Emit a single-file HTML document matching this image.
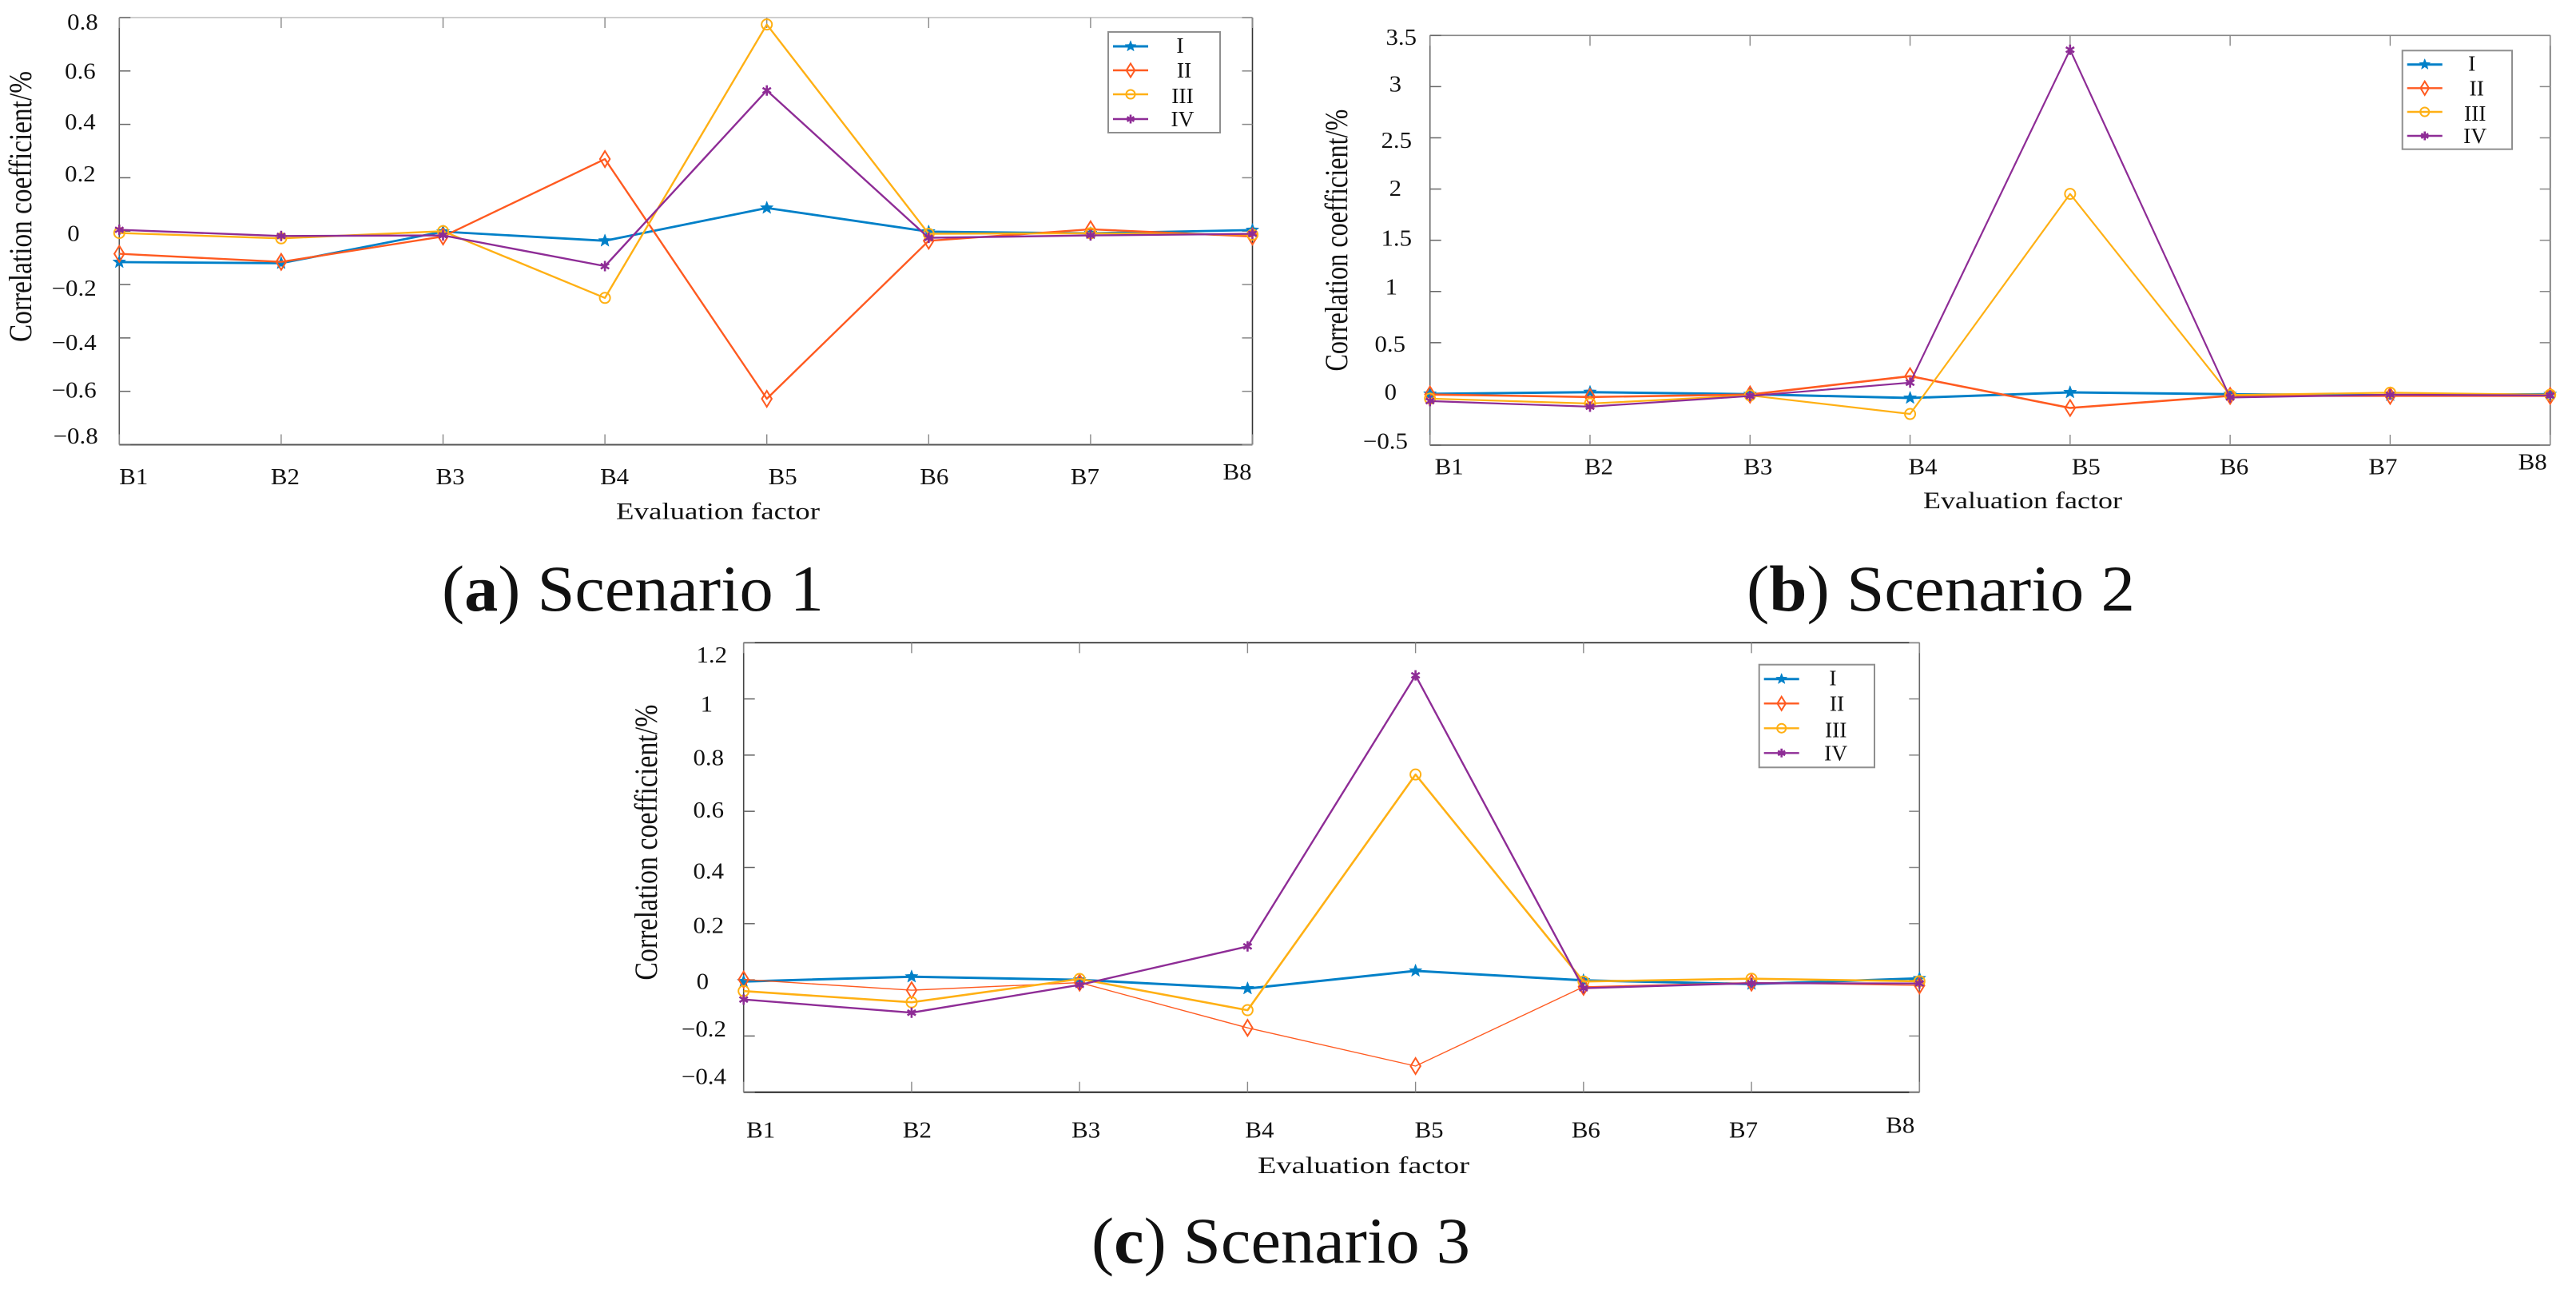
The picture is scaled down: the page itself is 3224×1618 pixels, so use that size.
<!DOCTYPE html>
<html lang="en">
<head>
<meta charset="utf-8">
<title>Correlation coefficient by evaluation factor</title>
<style>
html,body{margin:0;padding:0;background:#fff;}
svg{display:block;}
text{font-family:"Liberation Serif",serif;fill:#111;}
</style>
</head>
<body>
<svg id="figure" xmlns="http://www.w3.org/2000/svg" width="3224" height="1618" viewBox="0 0 3224 1618">
  <rect x="0" y="0" width="3224" height="1618" fill="#fff"/>
  <text x="553" y="764" font-size="82" textLength="478" lengthAdjust="spacingAndGlyphs">(<tspan font-weight="bold">a</tspan>) Scenario 1</text>
  <text x="2186" y="764" font-size="82" textLength="486" lengthAdjust="spacingAndGlyphs">(<tspan font-weight="bold">b</tspan>) Scenario 2</text>
  <text x="1366" y="1580" font-size="82" textLength="474" lengthAdjust="spacingAndGlyphs">(<tspan font-weight="bold">c</tspan>) Scenario 3</text>
</svg>
<script>
// ---- data ----
const categories = ['B1','B2','B3','B4','B5','B6','B7','B8'];
const seriesNames = ['I','II','III','IV'];

const yTicksA = [-0.8,-0.6,-0.4,-0.2,0,0.2,0.4,0.6,0.8];
const yTickLabelsA = ['-0.8','-0.6','-0.4','-0.2','0','0.2','0.4','0.6','0.8'];
const scenario1I   = [-0.116,-0.12,-0.002,-0.036,0.087,-0.002,-0.008,0.004];
const scenario1II  = [-0.085,-0.115,-0.02,0.27,-0.628,-0.036,0.007,-0.02];
const scenario1III = [-0.007,-0.027,0.0,-0.25,0.774,-0.01,-0.008,-0.013];
const scenario1IV  = [0.005,-0.018,-0.016,-0.131,0.527,-0.025,-0.016,-0.01];

const yTicksB = [-0.5,0,0.5,1,1.5,2,2.5,3,3.5];
const yTickLabelsB = ['-0.5','0','0.5','1','1.5','2','2.5','3','3.5'];
const scenario2I   = [0.0,0.017,-0.003,-0.04,0.015,-0.003,-0.013,-0.003];
const scenario2II  = [-0.006,-0.03,-0.006,0.173,-0.137,-0.019,-0.019,-0.019];
const scenario2III = [-0.046,-0.094,-0.015,-0.196,1.953,-0.011,0.012,-0.008];
const scenario2IV  = [-0.07,-0.125,-0.02,0.11,3.36,-0.035,-0.008,-0.015];

const yTicksC = [-0.4,-0.2,0,0.2,0.4,0.6,0.8,1,1.2];
const yTickLabelsC = ['-0.4','-0.2','0','0.2','0.4','0.6','0.8','1','1.2'];
const scenario3I   = [-0.006,0.011,0.0,-0.031,0.032,-0.002,-0.015,0.005];
const scenario3II  = [0.001,-0.037,-0.01,-0.171,-0.307,-0.025,-0.01,-0.02];
const scenario3III = [-0.04,-0.08,0.003,-0.108,0.731,-0.006,0.004,-0.005];
const scenario3IV  = [-0.07,-0.117,-0.018,0.119,1.084,-0.03,-0.012,-0.013];

// ---- appearance ----
const seriesColors = ['#0080c8','#ff5a20','#ffb014','#8e2c96'];
const legendBaseNudge = [8,9,11,9];
const SVGNS = 'http://www.w3.org/2000/svg';
const root = document.getElementById('figure');

function make(tag, parent, name, attrs, interact) {
  const el = document.createElementNS(SVGNS, tag);
  
  
  for (const k in attrs) el.setAttribute(k, attrs[k]);
  parent.appendChild(el);
  return el;
}

function label(parent, name, str, x, y, size, width, anchor) {
  const attrs = {x: x, y: y, 'font-size': size};
  if (width) { attrs.textLength = width; attrs.lengthAdjust = 'spacingAndGlyphs'; }
  if (anchor) attrs['text-anchor'] = anchor;
  const t = make('text', parent, name, attrs);
  t.textContent = str.replace('-', '\u2212');
  return t;
}

function tickWidth(str) {
  let w = 0;
  for (const ch of str) w += ch === '-' ? 16 : (ch === '.' ? 7 : 14);
  return w * 1.1;
}

function markerPath(i, x, y, s) {
  if (i === 0) {
    let d = '';
    for (let k = 0; k < 10; k++) {
      const a = -Math.PI / 2 + k * Math.PI / 5;
      const r = (k % 2 ? 0.42 : 1) * 8.5 * s;
      d += (k ? 'L' : 'M') + (x + r * Math.cos(a)).toFixed(1) + ' ' + (y + r * Math.sin(a)).toFixed(1);
    }
    return d + 'Z';
  }
  if (i === 1) {
    const w = 6.2 * s, h = 10 * s;
    return 'M' + x + ' ' + (y - h) + 'L' + (x + w) + ' ' + y + 'L' + x + ' ' + (y + h) + 'L' + (x - w) + ' ' + y + 'Z';
  }
  if (i === 2) {
    const r = 6.5 * s;
    return 'M' + (x - r) + ' ' + y + 'A' + r + ' ' + r + ' 0 1 1 ' + (x + r) + ' ' + y + 'A' + r + ' ' + r + ' 0 1 1 ' + (x - r) + ' ' + y + 'Z';
  }
  let d = '';
  for (let k = 0; k < 3; k++) {
    const a = Math.PI / 2 + k * Math.PI / 3;
    const dx = 6 * s * Math.cos(a), dy = 6.5 * s * Math.sin(a);
    d += 'M' + (x - dx).toFixed(1) + ' ' + (y - dy).toFixed(1) + 'L' + (x + dx).toFixed(1) + ' ' + (y + dy).toFixed(1);
  }
  return d;
}

function drawMarker(parent, name, i, x, y, s) {
  const fill = i === 0 ? seriesColors[0] : 'none';
  const sw = i === 0 ? 0.5 : (i === 3 ? 2.6 : 2);
  make('path', parent, name, {d: markerPath(i, x, y, s || 1), fill: fill, stroke: seriesColors[i], 'stroke-width': sw});
}

function drawChart(cfg) {
  const g = make('g', root, cfg.id, {});
  const L = cfg.left, R = cfg.right, T = cfg.top, B = cfg.bottom;
  const yMin = cfg.yTicks[0], yMax = cfg.yTicks[cfg.yTicks.length - 1];
  const xScale = function (i) { return L + (R - L) * i / (categories.length - 1); };
  const yScale = function (v) { return B - (v - yMin) / (yMax - yMin) * (B - T); };

  // frame
  make('line', g, 'top-axis-line', {x1: L, y1: T, x2: R, y2: T, stroke: cfg.frame.top, 'stroke-width': 1.6});
  make('line', g, 'right-axis-line', {x1: R, y1: T, x2: R, y2: B, stroke: cfg.frame.right, 'stroke-width': 1.6});
  make('line', g, 'left-axis-line', {x1: L, y1: T, x2: L, y2: B, stroke: cfg.frame.left, 'stroke-width': 1.6});
  make('line', g, 'bottom-axis-line', {x1: L, y1: B, x2: R, y2: B, stroke: cfg.frame.bottom, 'stroke-width': 2});

  // y ticks + labels
  cfg.yTicks.forEach(function (v, i) {
    const y = yScale(v);
    make('line', g, 'y-tick-left', {x1: L, y1: y, x2: L + 14, y2: y, stroke: '#666', 'stroke-width': 1.5});
    make('line', g, 'y-tick-right', {x1: R - 13, y1: y, x2: R, y2: y, stroke: '#888', 'stroke-width': 1.5});
    const lab = cfg.yTickLabels[i];
    label(g, 'y-tick-label', lab, cfg.yLabelRight + (cfg.yLabelShiftX[i] || 0), y + cfg.yLabelShiftY[i], 28, tickWidth(lab), 'end');
  });

  // x ticks + labels
  categories.forEach(function (c, i) {
    const x = xScale(i);
    make('line', g, 'x-tick-bottom', {x1: x, y1: B - 13, x2: x, y2: B, stroke: '#888', 'stroke-width': 1.4});
    make('line', g, 'x-tick-top', {x1: x, y1: T, x2: x, y2: T + 13, stroke: '#888', 'stroke-width': 1.4});
    const base = i === categories.length - 1 ? cfg.xLabelBase - 6 : cfg.xLabelBase;
    label(g, 'x-tick-label', c, x + cfg.xLabelShift[i], base, 28.5, 36);
  });

  // axis titles
  label(g, 'x-axis-title', 'Evaluation factor', cfg.xTitleX, cfg.xTitleY, 30, cfg.xTitleW);
  const yTitle = label(g, 'y-axis-title', 'Correlation coefficient/%', 0, 0, 40, cfg.yTitleLen);
  yTitle.setAttribute('transform', 'translate(' + cfg.yTitleX + ',' + cfg.yTitleBottom + ') rotate(-90)');

  // series
  cfg.series.forEach(function (vals, s) {
    const pts = vals.map(function (v, i) { return xScale(i).toFixed(1) + ',' + yScale(v).toFixed(1); }).join(' ');
    make('polyline', g, 'series-' + seriesNames[s] + '-line', {points: pts, fill: 'none', stroke: seriesColors[s], 'stroke-width': cfg.strokes[s], 'stroke-linejoin': 'round'});
    vals.forEach(function (v, i) {
      drawMarker(g, 'series-' + seriesNames[s] + '-marker', s, xScale(i), yScale(v));
    });
  });

  // legend
  const lg = make('g', g, 'legend', {});
  make('rect', lg, 'legend-box', {x: cfg.legend.x, y: cfg.legend.y, width: cfg.legend.w, height: cfg.legend.h, fill: '#fff', stroke: '#8f8f8f', 'stroke-width': 2});
  seriesNames.forEach(function (n, s) {
    const ry = cfg.legend.y + cfg.legend.rows[s];
    const x1 = cfg.legend.x + 6, x2 = cfg.legend.x + 50, mx = cfg.legend.x + 28;
    make('line', lg, 'legend-line-' + n, {x1: x1, y1: ry, x2: x2, y2: ry, stroke: seriesColors[s], 'stroke-width': s === 0 ? 3 : 2.4});
    drawMarker(lg, 'legend-marker-' + n, s, mx, ry, 0.85);
    label(lg, 'legend-label-' + n, n, cfg.legend.x + cfg.legend.text[s], ry + legendBaseNudge[s], 27.5, 0, 'middle');
  });
}

drawChart({
  id: 'chart-scenario-1',
  left: 149.3, right: 1567.5, top: 22, bottom: 556.5,
  frame: {top: '#bdbdbd', right: '#333', left: '#555', bottom: '#555'},
  yTicks: yTicksA, yTickLabels: yTickLabelsA,
  yLabelRight: 122.7,
  yLabelShiftX: [0,-2,-2,-2,-23,-3,-3,-3,0],
  yLabelShiftY: [-1.5,8,15,14,12,4.6,6.4,9.7,14.8],
  xLabelBase: 606,
  xLabelShift: [0,-13,-9,-6,2,-11,-25,-37],
  xTitleX: 771, xTitleY: 649.5, xTitleW: 255,
  yTitleX: 39, yTitleBottom: 428, yTitleLen: 339,
  series: [scenario1I, scenario1II, scenario1III, scenario1IV],
  strokes: [2.8, 2.4, 2.4, 2.4],
  legend: {x: 1387, y: 40, w: 140, h: 126, rows: [18,48,78,109], text: [90,95,93,93]}
});

drawChart({
  id: 'chart-scenario-2',
  left: 1789.7, right: 3191.7, top: 44.3, bottom: 557,
  frame: {top: '#888', right: '#666', left: '#666', bottom: '#777'},
  yTicks: yTicksB, yTickLabels: yTickLabelsB,
  yLabelRight: 1762,
  yLabelShiftX: [0,-14,-3,-13,5,-8,5,-8,11],
  yLabelShiftY: [4.7,7,11.1,3.8,6.6,8.4,12.3,6,11.9],
  xLabelBase: 593.5,
  xLabelShift: [6,-7,-8,-2,2,-13,-27,-40],
  xTitleX: 2407, xTitleY: 636, xTitleW: 249,
  yTitleX: 1686, yTitleBottom: 464.6, yTitleLen: 328,
  series: [scenario2I, scenario2II, scenario2III, scenario2IV],
  strokes: [3, 2.6, 2.2, 2.2],
  legend: {x: 3006.7, y: 63.3, w: 137.3, h: 123.4, rows: [17.4,47,76.7,106.7], text: [87,93,91,91]}
});

drawChart({
  id: 'chart-scenario-3',
  left: 930.7, right: 2402.3, top: 804.3, bottom: 1366.7,
  frame: {top: '#222', right: '#666', left: '#444', bottom: '#222'},
  yTicks: yTicksC, yTickLabels: yTickLabelsC,
  yLabelRight: 909,
  yLabelShiftX: [0,0,-22,-3,-3,-3,-3,-17,1],
  yLabelShiftY: [-10,0.4,11.3,11.9,13.8,7.8,12.6,16,24.9],
  xLabelBase: 1423.5,
  xLabelShift: [3.5,-11,-10,-3,-1,-15,-28,-42],
  xTitleX: 1574, xTitleY: 1468, xTitleW: 265,
  yTitleX: 822, yTitleBottom: 1226.6, yTitleLen: 345,
  series: [scenario3I, scenario3II, scenario3III, scenario3IV],
  strokes: [3, 1.4, 2.6, 2.4],
  legend: {x: 2201.7, y: 831.7, w: 144.3, h: 128.6, rows: [18,48.6,79.6,110.6], text: [92.3,97.3,96,96]}
});
</script>
</body>
</html>
